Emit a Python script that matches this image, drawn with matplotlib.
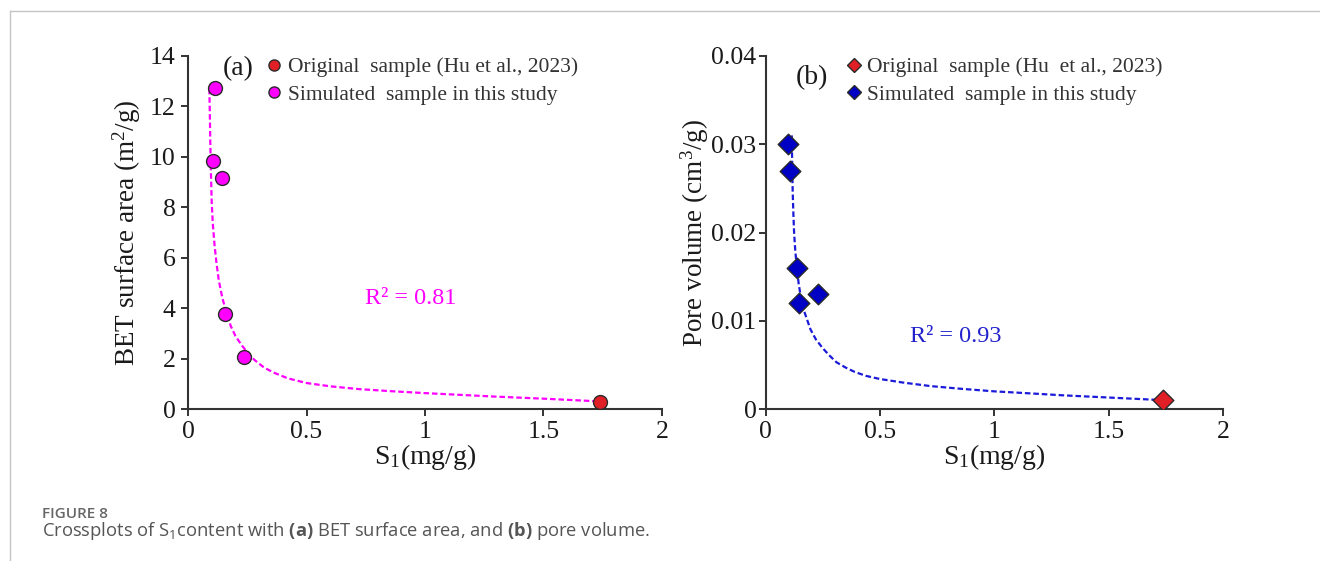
import numpy as np
import matplotlib
matplotlib.use('Agg')
import matplotlib.pyplot as plt
from matplotlib.lines import Line2D

plt.rcParams['font.family'] = ['Liberation Serif', 'DejaVu Serif']
plt.rcParams['mathtext.fontset'] = 'custom'
plt.rcParams['mathtext.rm'] = 'Liberation Serif'
plt.rcParams['mathtext.bf'] = 'Open Sans:bold'
plt.rcParams['mathtext.default'] = 'regular'

# ---- data ----
# (a) BET surface area
orig_s1_a = [1.739]
orig_bet = [0.28]
sim_s1_a = [0.115, 0.107, 0.144, 0.157, 0.236]
sim_bet = [12.75, 9.85, 9.15, 3.75, 2.05]
trend_x_a = [0.090, 0.092, 0.094, 0.097, 0.100, 0.105, 0.112, 0.120, 0.130, 0.145,
             0.160, 0.180, 0.200, 0.225, 0.250, 0.280, 0.320, 0.360, 0.420, 0.500,
             0.600, 0.720, 0.850, 1.000, 1.150, 1.300, 1.500, 1.740]
trend_y_a = [12.7, 11.8, 10.6, 9.3, 8.2, 7.3, 6.5, 5.8, 5.1, 4.4,
             3.9, 3.3, 2.9, 2.55, 2.25, 1.95, 1.65, 1.45, 1.22, 1.03,
             0.9, 0.79, 0.71, 0.63, 0.56, 0.49, 0.41, 0.30]

# (b) pore volume
orig_s1_b = [1.738]
orig_pv = [0.001]
sim_s1_b = [0.098, 0.108, 0.137, 0.148, 0.228]
sim_pv = [0.030, 0.027, 0.016, 0.012, 0.013]
trend_x_b = [0.115, 0.116, 0.117, 0.119, 0.122, 0.125, 0.130, 0.137, 0.145, 0.155,
             0.165, 0.178, 0.197, 0.220, 0.250, 0.278, 0.310, 0.350, 0.390, 0.440,
             0.500, 0.600, 0.720, 0.850, 1.000, 1.150, 1.300, 1.500, 1.740]
trend_y_b = [0.031, 0.029, 0.027, 0.0245, 0.022, 0.020, 0.018, 0.016, 0.0142, 0.0126,
             0.0114, 0.0104, 0.0090, 0.0079, 0.0069, 0.0061, 0.0053, 0.0047, 0.0042, 0.00375,
             0.0034, 0.0030, 0.0026, 0.0023, 0.0020, 0.00178, 0.00155, 0.0013, 0.001]

xticks = [0, 0.5, 1, 1.5, 2]
xticklabels = ['0', '0.5', '1', '1.5', '2']
yticks_a = [0, 2, 4, 6, 8, 10, 12, 14]
yticks_b = [0, 0.01, 0.02, 0.03, 0.04]
yticklabels_b = ['0', '0.01', '0.02', '0.03', '0.04']

W, H = 1320, 561
fig = plt.figure(figsize=(W / 100, H / 100), dpi=100)

# thin page frame
fig.add_artist(Line2D([10 / W, 1], [1 - 11 / H, 1 - 11 / H], transform=fig.transFigure,
                      color='#c4c4c4', lw=1))
fig.add_artist(Line2D([10 / W, 10 / W], [0, 1 - 11 / H], transform=fig.transFigure,
                      color='#c4c4c4', lw=1))

axa = fig.add_axes([188 / W, 1 - 409 / H, 474 / W, 353 / H])
axb = fig.add_axes([765.5 / W, 1 - 409 / H, 457.5 / W, 353 / H])

red = '#e11f26'
mag = '#ff00ff'
blue = '#0000c4'
edge = '#2a2a2a'
txt = '#1a1a1a'


def style(ax, ypad):
    for s in ['top', 'right']:
        ax.spines[s].set_visible(False)
    for s in ['left', 'bottom']:
        ax.spines[s].set_color('#333333')
        ax.spines[s].set_linewidth(1.5)
    ax.tick_params(direction='out', length=5, width=1.4, color='#333333',
                   labelsize=18.5, labelcolor=txt, pad=4)
    ax.tick_params(axis='y', pad=ypad)
    ax.set_xlim(0, 2)
    ax.set_xticks(xticks)
    ax.set_xticklabels(xticklabels)
    ax.set_xlabel('S$_1$(mg/g)', fontsize=20, color=txt, labelpad=-1)


# ---- (a) ----
style(axa, 4)
axa.set_ylim(0, 14)
axa.set_yticks(yticks_a)
axa.set_ylabel('BET surface area (m$^{2}$/g)', fontsize=19.5, color=txt, labelpad=5)
axa.plot(trend_x_a, trend_y_a, ls=(0, (2.5, 1.3)), color=mag, lw=1.6, zorder=2)
axa.scatter(sim_s1_a, sim_bet, s=100, marker='o', color=mag, edgecolor=edge, lw=1, zorder=3)
axa.scatter(orig_s1_a, orig_bet, s=100, marker='o', color=red, edgecolor=edge, lw=1, zorder=3)
axa.text(0.94, 4.4, 'R² = 0.81', color=mag, fontsize=17.5, ha='center', va='center')
axa.text(0.21, 13.5, '(a)', fontsize=20, color=txt, ha='center', va='center')
ha = [Line2D([], [], marker='o', ls='none', mfc=red, mec=edge, ms=8),
      Line2D([], [], marker='o', ls='none', mfc=mag, mec=edge, ms=8)]
leg = axa.legend(ha, ['Original  sample (Hu et al., 2023)', 'Simulated  sample in this study'],
                 loc='upper left', bbox_to_anchor=((263 - 188) / 474, (409 - 57) / 353),
                 frameon=False, handletextpad=0.15, labelspacing=0.35, borderaxespad=0,
                 borderpad=0, handlelength=1.0, fontsize=15.5)
for t in leg.get_texts():
    t.set_color('#333333')

# ---- (b) ----
style(axb, 1.5)
axb.set_ylim(0, 0.04)
axb.set_yticks(yticks_b)
axb.set_yticklabels(yticklabels_b)
axb.set_ylabel('Pore volume (cm$^{3}$/g)', fontsize=19.5, color=txt, labelpad=0)
axb.plot(trend_x_b, trend_y_b, ls=(0, (2.5, 1.3)), color='#1a1ad8', lw=1.6, zorder=2)
axb.scatter(sim_s1_b, sim_pv, s=110, marker='D', color=blue, edgecolor=edge, lw=1, zorder=3)
axb.scatter(orig_s1_b, orig_pv, s=110, marker='D', color=red, edgecolor=edge, lw=1, zorder=3)
axb.text(0.83, 0.0082, 'R² = 0.93', color='#2222cc', fontsize=17.5, ha='center', va='center')
axb.text(0.205, 0.0376, '(b)', fontsize=20, color=txt, ha='center', va='center')
hb = [Line2D([], [], marker='D', ls='none', mfc=red, mec=edge, ms=7),
      Line2D([], [], marker='D', ls='none', mfc=blue, mec=edge, ms=7)]
leg = axb.legend(hb, ['Original  sample (Hu  et al., 2023)', 'Simulated  sample in this study'],
                 loc='upper left', bbox_to_anchor=((843 - 765.5) / 457.5, (409 - 57) / 353),
                 frameon=False, handletextpad=0.1, labelspacing=0.35, borderaxespad=0,
                 borderpad=0, handlelength=1.0, fontsize=15.5)
for t in leg.get_texts():
    t.set_color('#333333')

# ---- caption ----
fig.text(42 / W, 1 - 514 / H, 'FIGURE 8', family='Open Sans', fontsize=11,
         fontweight='semibold', color='#666666', va='center')
fig.text(42 / W, 1 - 531 / H,
         r'Crossplots of S$_1$content with $\bf{(a)}$ BET surface area, and $\bf{(b)}$ pore volume.',
         family='Open Sans', fontsize=13.2, color='#555555', va='center')

fig.savefig('out.png', dpi=100)
